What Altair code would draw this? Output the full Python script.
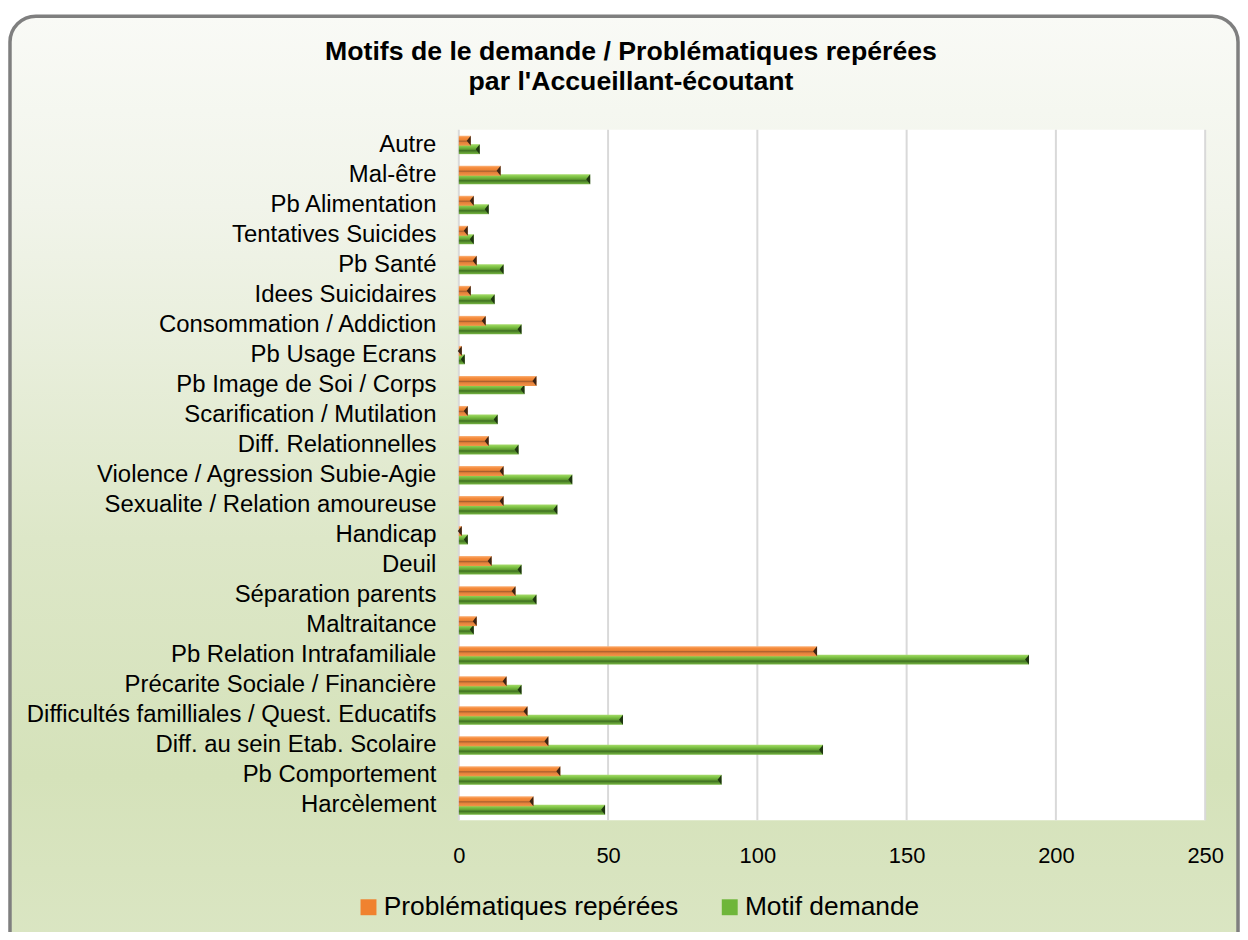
import altair as alt
import pandas as pd

categories = [
    "Autre", "Mal-être", "Pb Alimentation", "Tentatives Suicides", "Pb Santé",
    "Idees Suicidaires", "Consommation / Addiction", "Pb Usage Ecrans",
    "Pb Image de Soi / Corps", "Scarification / Mutilation", "Diff. Relationnelles",
    "Violence / Agression Subie-Agie", "Sexualite / Relation amoureuse", "Handicap",
    "Deuil", "Séparation parents", "Maltraitance", "Pb Relation Intrafamiliale",
    "Précarite Sociale / Financière", "Difficultés familliales / Quest. Educatifs",
    "Diff. au sein Etab. Scolaire", "Pb Comportement", "Harcèlement",
]
problematiques = [4, 14, 5, 3, 6, 4, 9, 1, 26, 3, 10, 15, 15, 1, 11, 19, 6, 120, 16, 23, 30, 34, 25]
motif_demande = [7, 44, 10, 5, 15, 12, 21, 2, 22, 13, 20, 38, 33, 3, 21, 26, 5, 191, 21, 55, 122, 88, 49]
series_names = ["Problématiques repérées", "Motif demande"]
x_ticks = [0, 50, 100, 150, 200, 250]
title_lines = ["Motifs de le demande / Problématiques repérées", "par l'Accueillant-écoutant"]

W, H = 750, 694

df = pd.DataFrame({"cat": categories, "prob": problematiques, "motif": motif_demande})
ticks_df = pd.DataFrame({"t": x_ticks})
one = pd.DataFrame({"a": [0]})

xscale = alt.Scale(domain=[0, 250], nice=False, zero=True)
yscale = alt.Scale(domain=categories, paddingInner=0, paddingOuter=0)

def grad(stops):
    return alt.Gradient(
        gradient="linear", x1=0, y1=0, x2=0, y2=1,
        stops=[alt.GradientStop(offset=o, color=c) for o, c in stops],
    )

bg_grad = grad([(0, "#f9faf6"), (0.2, "#f1f4ea"), (0.55, "#dde7c8"), (0.8, "#d5e2ba"), (1, "#dbe6c4")])
orange_grad = grad([(0, "#fbb57e"), (0.2, "#f68c3c"), (0.42, "#ec8235"), (0.55, "#a8602f"),
                    (0.68, "#e4803a"), (1, "#f39449")])
green_grad = grad([(0, "#a8dc6c"), (0.25, "#80c546"), (0.5, "#62a032"), (0.65, "#3f6f22"),
                   (0.8, "#5a9430"), (1, "#78b843")])

yaxis = alt.Axis(labelFontSize=24, labelFont="Liberation Sans", labelColor="#000000",
                 labelPadding=23, ticks=False, domain=False, grid=False, labelLimit=500,
                 title=None, zindex=2)
xaxis = alt.Axis(values=x_ticks, labelFontSize=22, labelFont="Liberation Sans Narrow, Liberation Sans",
                 labelColor="#000000", labelPadding=25, ticks=False, domain=False, grid=False,
                 labelFlush=False, title=None, zindex=2)

def X(field):
    return alt.X(field, scale=xscale, axis=xaxis, title=None)

Y = alt.Y("cat:N", scale=yscale, sort=categories, axis=yaxis, title=None)

bg = alt.Chart(one).mark_rect(
    fill=bg_grad, stroke="#7f7f7f", strokeWidth=3.5, cornerRadius=26
).encode(x=alt.value(-451), x2=alt.value(783), y=alt.value(-114), y2=alt.value(840))

plot_bg = alt.Chart(one).mark_rect(fill="white").encode(
    x=alt.value(0), x2=alt.value(W), y=alt.value(0), y2=alt.value(H)
)

title1 = alt.Chart(one).mark_text(
    text=title_lines[0], font="Liberation Sans", fontSize=26.8, fontWeight="bold",
    color="#000000", align="center", baseline="alphabetic"
).encode(x=alt.value(173), y=alt.value(-70))
title2 = alt.Chart(one).mark_text(
    text=title_lines[1], font="Liberation Sans", fontSize=26.8, fontWeight="bold",
    color="#000000", align="center", baseline="alphabetic"
).encode(x=alt.value(173), y=alt.value(-40))

grid = alt.Chart(ticks_df).mark_rule(color="#d9d9d9", strokeWidth=2).encode(
    x=X("t:Q"), y=alt.value(0), y2=alt.value(H),
)

green_bars = alt.Chart(df).mark_bar(height=10, yOffset=4.5, fill=green_grad).encode(
    x=X("motif:Q"), y=Y,
)
tri_path = "M0,-1L-0.8,0L0,1Z"
green_tri = alt.Chart(df).mark_point(
    shape=tri_path, filled=True, fill="#1e3510", opacity=1, size=100, yOffset=4.5, strokeWidth=0
).encode(x=X("motif:Q"), y=Y)

orange_bars = alt.Chart(df).mark_bar(height=10, yOffset=-4, fill=orange_grad).encode(
    x=X("prob:Q"), y=Y,
)
orange_tri = alt.Chart(df).mark_point(
    shape=tri_path, filled=True, fill="#3b2414", opacity=1, size=100, yOffset=-4, strokeWidth=0
).encode(x=X("prob:Q"), y=Y)

legend_layer = alt.Chart(df).transform_fold(
    ["prob", "motif"], as_=["key", "val"]
).transform_calculate(
    serie="datum.key == 'prob' ? '" + series_names[0] + "' : '" + series_names[1] + "'"
).mark_square(opacity=0, size=1).encode(
    x=X("val:Q"),
    y=Y,
    color=alt.Color(
        "serie:N",
        scale=alt.Scale(domain=series_names, range=["#f0822f", "#6fb63a"]),
        legend=alt.Legend(
            orient="none", legendX=-104, legendY=768, direction="horizontal", title=None,
            symbolType="square", symbolSize=256, symbolOpacity=1, symbolStrokeWidth=0,
            labelFontSize=26.5, labelFont="Liberation Sans", labelColor="#000000",
            labelOffset=2, columnPadding=38, labelLimit=600, zindex=2,
        ),
    ),
)

chart = alt.layer(
    bg, plot_bg, title1, title2, grid, green_bars, green_tri, orange_bars, orange_tri, legend_layer
).properties(
    width=W, height=H,
    padding={"left": 453, "top": 120, "right": 35, "bottom": 110},
    autosize=alt.AutoSizeParams(type="none"),
).configure_view(strokeWidth=0).configure(background="transparent")

chart.save("out.html", embed_options={"renderer": "svg", "actions": False})
